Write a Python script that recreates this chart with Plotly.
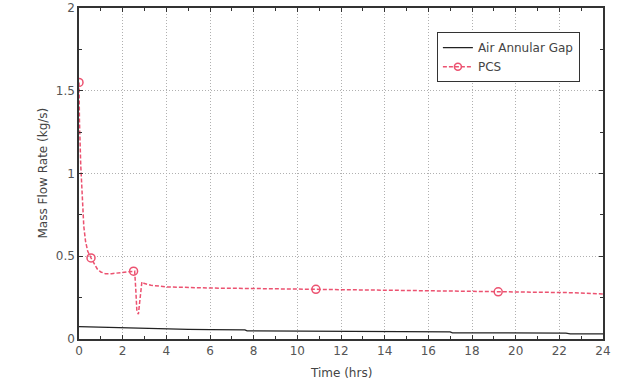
import plotly.graph_objects as go

# Air Annular Gap series
air_t = [0, 0.5, 1, 2, 3, 4, 5, 6, 7, 7.6, 7.7, 9, 10, 12, 12.1, 14, 16, 17, 17.1, 20, 22.3, 22.5, 24]
air_m = [0.075, 0.073, 0.070, 0.066, 0.062, 0.060, 0.058, 0.057, 0.056, 0.055, 0.049, 0.048, 0.048, 0.047, 0.043, 0.043, 0.043, 0.043, 0.037, 0.037, 0.036, 0.031, 0.031]

# PCS series (line)
pcs_t = [0, 0.02, 0.08, 0.15, 0.22, 0.3, 0.4, 0.55, 0.7, 0.85, 1.0, 1.2, 1.5, 1.9, 2.3, 2.5, 2.55, 2.6, 2.65, 2.72, 2.8, 2.88, 3.0, 3.3, 4, 5, 6, 8, 10, 10.85, 12, 14, 16, 18, 19.2, 21, 22.5, 23.5, 24]
pcs_m = [1.55, 1.32, 1.05, 0.82, 0.68, 0.59, 0.53, 0.49, 0.45, 0.42, 0.405, 0.395, 0.395, 0.40, 0.405, 0.41, 0.41, 0.30, 0.17, 0.15, 0.25, 0.345, 0.335, 0.325, 0.315, 0.31, 0.308, 0.305, 0.30, 0.30, 0.298, 0.295, 0.292, 0.288, 0.285, 0.282, 0.28, 0.275, 0.272]

# PCS markers
mark_t = [0, 0.55, 2.5, 10.85, 19.2]
mark_m = [1.55, 0.49, 0.41, 0.30, 0.285]

x_ticks = list(range(0, 25, 2))
y_ticks = [0, 0.5, 1, 1.5, 2]
y_labels = ["0", "0.5", "1", "1.5", "2"]

RED = "rgb(236,82,112)"
FONT = "DejaVu Sans"

fig = go.Figure()
fig.add_trace(go.Scatter(x=air_t, y=air_m, mode="lines", name="Air Annular Gap",
                         line=dict(color="#222222", width=1.2)))
fig.add_trace(go.Scatter(x=pcs_t, y=pcs_m, mode="lines", showlegend=False,
                         line=dict(color=RED, width=1.5, dash="4px,2px")))
fig.add_trace(go.Scatter(x=mark_t, y=mark_m, mode="markers", showlegend=False,
                         marker=dict(symbol="circle-open", size=8, color=RED, line=dict(width=1.5))))
# legend proxy
fig.add_trace(go.Scatter(x=[None], y=[None], mode="lines+markers", name="PCS",
                         line=dict(color=RED, width=1.5, dash="4px,2px"),
                         marker=dict(symbol="circle-open", size=7, color=RED, line=dict(width=1.5))))

axis_common = dict(
    showline=True, linecolor="#333333", linewidth=1.5, mirror="allticks",
    ticks="inside", ticklen=4, tickcolor="#333333",
    showgrid=True, gridcolor="#b0b0b0", griddash="1px,2px", gridwidth=1,
    zeroline=False, automargin=False,
    tickfont=dict(family=FONT, size=12, color="#555555"),
)

fig.update_xaxes(range=[0, 24], tickvals=x_ticks, ticktext=[str(v) for v in x_ticks],
                 minor=dict(dtick=1, ticks="inside", ticklen=3, tickcolor="#333333", showgrid=False),
                 **axis_common)
fig.update_yaxes(range=[0, 2], tickvals=y_ticks, ticktext=y_labels,
                 minor=dict(dtick=0.25, ticks="inside", ticklen=3, tickcolor="#333333", showgrid=False),
                 **axis_common)

fig.update_layout(
    width=623, height=381,
    margin=dict(l=79, r=20, t=8, b=42),
    paper_bgcolor="white", plot_bgcolor="white",
    font=dict(family=FONT, size=12, color="#444444"),
    legend=dict(x=0.683, y=0.927, xanchor="left", yanchor="top",
                bgcolor="white", bordercolor="#333333", borderwidth=1,
                font=dict(family=FONT, size=12, color="#444444"),
                tracegroupgap=0, itemwidth=30),
    annotations=[
        dict(text="Time (hrs)", x=0.5, y=-0.103, xref="paper", yref="paper",
             xanchor="center", yanchor="middle", showarrow=False,
             font=dict(family=FONT, size=12, color="#444444")),
        dict(text="Mass Flow Rate (kg/s)", x=-0.0706, y=0.5, xref="paper", yref="paper",
             xanchor="center", yanchor="middle", showarrow=False, textangle=-90,
             font=dict(family=FONT, size=12, color="#444444")),
    ],
)

fig.write_html("out.html", config={"displayModeBar": False},
               post_script="document.body.style.margin='0';")
